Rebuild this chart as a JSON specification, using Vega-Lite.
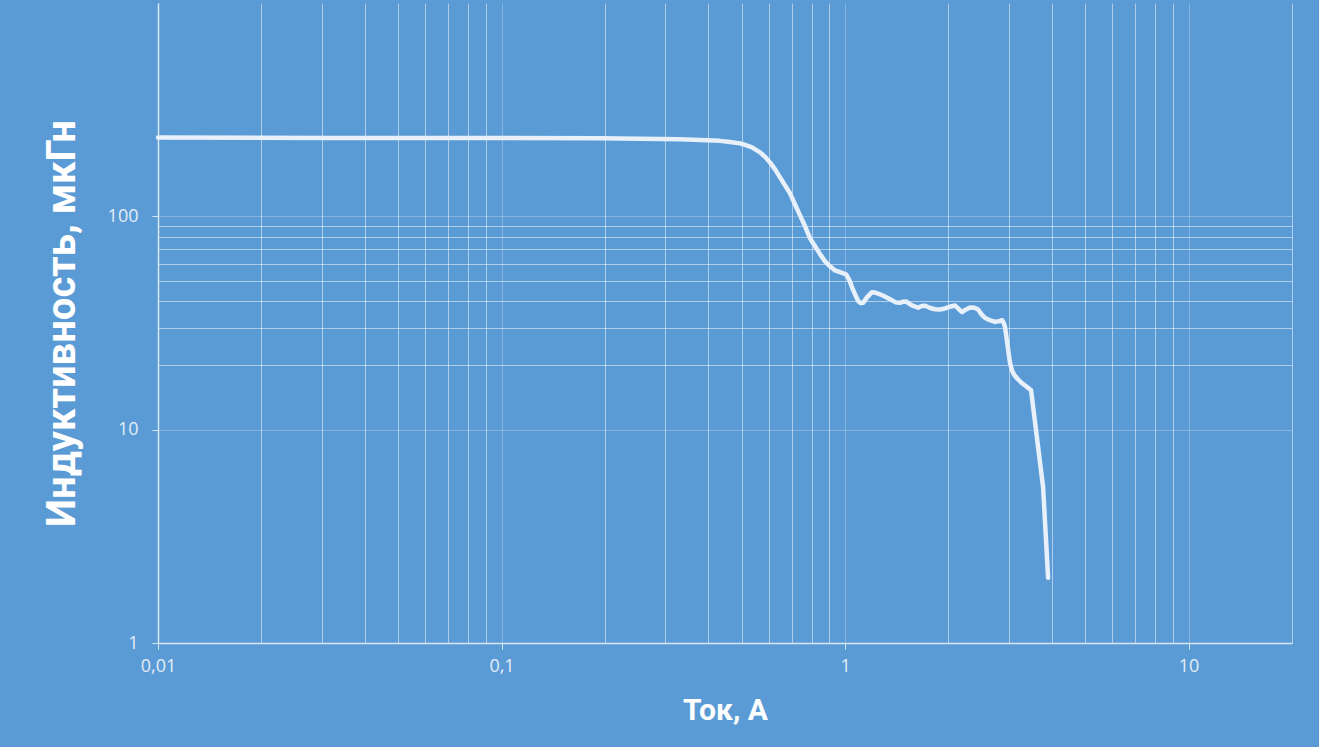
{
  "$schema": "https://vega.github.io/schema/vega-lite/v6.json",
  "width": 1134,
  "height": 640,
  "autosize": {"type": "none"},
  "padding": {"left": 158, "top": 3, "right": 27, "bottom": 104},
  "background": "#5B9BD5",
  "config": {"view": {"stroke": null}},
  "data": {"values": [
    {"current": 0.01, "L": 234},
    {"current": 0.0317, "L": 233},
    {"current": 0.1, "L": 233},
    {"current": 0.1935, "L": 232},
    {"current": 0.331, "L": 229.5},
    {"current": 0.4325, "L": 225.8},
    {"current": 0.4625, "L": 223.3},
    {"current": 0.4946, "L": 219.8},
    {"current": 0.5116, "L": 216.2},
    {"current": 0.536, "L": 210.5},
    {"current": 0.5655, "L": 199.5},
    {"current": 0.5849, "L": 190},
    {"current": 0.6047, "L": 179},
    {"current": 0.6255, "L": 166},
    {"current": 0.6468, "L": 152.3},
    {"current": 0.6687, "L": 139.7},
    {"current": 0.6915, "L": 128.2},
    {"current": 0.715, "L": 113.8},
    {"current": 0.7396, "L": 101.1},
    {"current": 0.7648, "L": 89.8},
    {"current": 0.7908, "L": 78.8},
    {"current": 0.8179, "L": 72.4},
    {"current": 0.8457, "L": 66.5},
    {"current": 0.8745, "L": 61.5},
    {"current": 0.9043, "L": 58.3},
    {"current": 0.9352, "L": 55.8},
    {"current": 0.9669, "L": 54.7},
    {"current": 1.007, "L": 53.5},
    {"current": 1.028, "L": 50.5},
    {"current": 1.048, "L": 46.5},
    {"current": 1.07, "L": 43.0},
    {"current": 1.091, "L": 40.2},
    {"current": 1.11, "L": 39.2},
    {"current": 1.128, "L": 39.3},
    {"current": 1.16, "L": 41.8},
    {"current": 1.198, "L": 44.1},
    {"current": 1.23, "L": 43.8},
    {"current": 1.264, "L": 43.1},
    {"current": 1.31, "L": 42.0},
    {"current": 1.352, "L": 40.9},
    {"current": 1.4, "L": 39.6},
    {"current": 1.446, "L": 39.3},
    {"current": 1.475, "L": 39.8},
    {"current": 1.505, "L": 39.9},
    {"current": 1.54, "L": 38.9},
    {"current": 1.578, "L": 38.0},
    {"current": 1.632, "L": 37.3},
    {"current": 1.67, "L": 38.0},
    {"current": 1.71, "L": 38.1},
    {"current": 1.77, "L": 37.2},
    {"current": 1.828, "L": 36.7},
    {"current": 1.89, "L": 36.6},
    {"current": 1.955, "L": 37.0},
    {"current": 2.03, "L": 37.8},
    {"current": 2.09, "L": 38.2},
    {"current": 2.14, "L": 36.8},
    {"current": 2.191, "L": 35.6},
    {"current": 2.25, "L": 36.6},
    {"current": 2.311, "L": 37.4},
    {"current": 2.38, "L": 37.3},
    {"current": 2.439, "L": 36.6},
    {"current": 2.5, "L": 34.6},
    {"current": 2.556, "L": 33.4},
    {"current": 2.65, "L": 32.5},
    {"current": 2.734, "L": 32.0},
    {"current": 2.8, "L": 32.2},
    {"current": 2.866, "L": 32.6},
    {"current": 2.9, "L": 31.5},
    {"current": 2.923, "L": 30.2},
    {"current": 2.97, "L": 25.0},
    {"current": 3.022, "L": 20.5},
    {"current": 3.06, "L": 19.0},
    {"current": 3.105, "L": 18.1},
    {"current": 3.19, "L": 17.2},
    {"current": 3.276, "L": 16.5},
    {"current": 3.38, "L": 15.9},
    {"current": 3.479, "L": 15.3},
    {"current": 3.771, "L": 5.38},
    {"current": 3.9, "L": 2.02}
  ]},
  "mark": {"type": "line", "interpolate": "linear", "stroke": "#E8F0FA", "strokeWidth": 4.5, "strokeCap": "round", "strokeJoin": "round"},
  "encoding": {
    "x": {
      "field": "current", "type": "quantitative",
      "scale": {"type": "log", "domain": [0.01, 20], "nice": false},
      "axis": {
        "title": "Ток, А",
        "values": [0.01, 0.02, 0.03, 0.04, 0.05, 0.06, 0.07, 0.08, 0.09, 0.1, 0.2, 0.3, 0.4, 0.5, 0.6, 0.7, 0.8, 0.9, 1, 2, 3, 4, 5, 6, 7, 8, 9, 10, 20],
        "labelExpr": "datum.value == 0.01 ? '0,01' : datum.value == 0.1 ? '0,1' : datum.value == 1 ? '1' : datum.value == 10 ? '10' : ''",
        "labelOverlap": false,
        "labelFlush": false,
        "labelFont": "Open Sans",
        "labelFontSize": 18,
        "labelColor": "#E3EDF8",
        "labelPadding": 8,
        "domainColor": "#D9E7F5",
        "domainWidth": 1.5,
        "tickColor": "#D9E7F5",
        "tickSize": 6,
        "tickOpacity": {"condition": {"test": "datum.value == 0.01 || datum.value == 0.1 || datum.value == 1 || datum.value == 10", "value": 1}, "value": 0},
        "grid": true,
        "gridColor": "#FFFFFF",
        "gridWidth": 1,
        "gridOpacity": {"condition": {"test": "datum.value == 0.1 || datum.value == 1 || datum.value == 10", "value": 0.25}, "value": 0.5},
        "titleFont": "Roboto",
        "titleFontWeight": "bold",
        "titleFontSize": 30,
        "titleColor": "#FFFFFF",
        "titleX": 567,
        "titleY": 67,
        "titleAlign": "center",
        "titleBaseline": "middle"
      }
    },
    "y": {
      "field": "L", "type": "quantitative",
      "scale": {"type": "log", "domain": [1, 1000], "nice": false},
      "axis": {
        "title": "Индуктивность, мкГн",
        "values": [1, 10, 20, 30, 40, 50, 60, 70, 80, 90, 100],
        "labelExpr": "datum.value == 1 ? '1' : datum.value == 10 ? '10' : datum.value == 100 ? '100' : ''",
        "labelOverlap": false,
        "labelFlush": false,
        "labelFont": "Open Sans",
        "labelFontSize": 18,
        "labelColor": "#E3EDF8",
        "labelPadding": 14,
        "domainColor": "#D9E7F5",
        "domainWidth": 1.5,
        "tickColor": "#D9E7F5",
        "tickSize": 6,
        "tickOpacity": {"condition": {"test": "datum.value == 1 || datum.value == 10 || datum.value == 100", "value": 1}, "value": 0},
        "grid": true,
        "gridColor": "#FFFFFF",
        "gridWidth": 1,
        "gridOpacity": {"condition": {"test": "datum.value == 10 || datum.value == 100", "value": 0.25}, "value": 0.5},
        "titleFont": "Roboto",
        "titleFontWeight": "bold",
        "titleFontSize": 40,
        "titleColor": "#FFFFFF",
        "titleAngle": -90,
        "titleX": -96,
        "titleY": 320,
        "titleAlign": "center",
        "titleBaseline": "middle"
      }
    }
  }
}
